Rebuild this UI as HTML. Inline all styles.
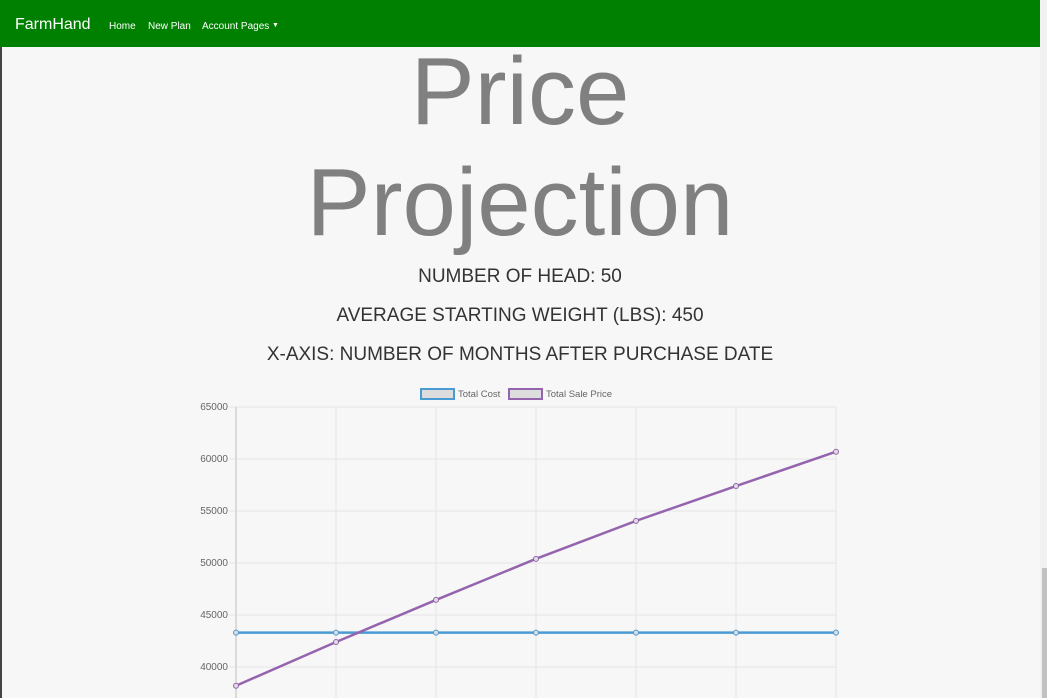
<!DOCTYPE html>
<html><head><meta charset="utf-8"><style>
body{margin:0;width:1047px;height:698px;overflow:hidden;background:#f7f7f7;font-family:"Liberation Sans",sans-serif;position:relative}
#nav{position:absolute;left:0;top:0;width:1040px;height:47px;background:#008000;color:#fff}
#nav .brand{position:absolute;left:15px;top:16px;font-size:16px}
#nav .l{position:absolute;top:21px;font-size:10px}
#lb{position:absolute;left:0;top:0;width:2px;height:698px;background:#444}
#sb{position:absolute;left:1040px;top:0;width:7px;height:698px;background:#f1f1f1}
#th{position:absolute;left:1042px;top:568px;width:5px;height:130px;background:#c1c1c1}
.t{position:absolute;left:0;width:1040px;text-align:center;color:#808080;font-size:96px;line-height:1}
.s{position:absolute;left:0;width:1040px;text-align:center;color:#333;font-size:19px}
</style></head><body>
<div id="lb"></div>
<div id="nav">
<span class="brand">FarmHand</span>
<span class="l" style="left:109px">Home</span>
<span class="l" style="left:148px">New Plan</span>
<span class="l" style="left:202px">Account Pages <span style="font-size:7px;vertical-align:2px">▼</span></span>
</div>
<div id="sb"></div>
<div id="th"></div>
<div class="t" style="top:44px">Price</div>
<div class="t" style="top:155px">Projection</div>
<div class="s" style="top:266px">NUMBER OF HEAD: 50</div>
<div class="s" style="top:305px">AVERAGE STARTING WEIGHT (LBS): 450</div>
<div class="s" style="top:344px">X-AXIS: NUMBER OF MONTHS AFTER PURCHASE DATE</div>
<svg id="chart" style="position:absolute;left:0;top:0" width="1040" height="698"></svg>
<script>
const categories=[0,1,2,3,4,5,6];
const totalCost=[43300,43300,43300,43300,43300,43300,43300];
const totalSale=[38200,42400,46450,50400,54050,57400,60700];
const yTicks=[65000,60000,55000,50000,45000,40000];
const NS="http://www.w3.org/2000/svg";
const svg=document.getElementById('chart');
const x=i=>236+i*100;
const y=v=>407+(65000-v)/5000*52;
function mk(t,a){const e=document.createElementNS(NS,t);for(const k in a)e.setAttribute(k,a[k]);svg.appendChild(e);return e;}
yTicks.forEach(v=>{
 const l=mk('line',{x1:229,x2:836,y1:y(v),y2:y(v),stroke:'#e6e6e6'});
 
 
 const t=mk('text',{x:228,y:y(v)+3,'text-anchor':'end','font-size':10,fill:'#666','font-family':'Liberation Sans'});
 t.textContent=v;
 
 
});
categories.forEach((c,i)=>{
 const l=mk('line',{x1:x(i),x2:x(i),y1:407,y2:698,stroke:i==0?'#d0d0d0':'#e6e6e6','stroke-width':i==0?1.5:1});
 
 
});
function series(vals,col,name){
 const p=mk('polyline',{points:vals.map((v,i)=>x(i)+','+y(v)).join(' '),fill:'none',stroke:col,'stroke-width':2.5});
 
 
 vals.forEach((v,i)=>{
  const c=mk('circle',{cx:x(i),cy:y(v),r:2.5,fill:'#ddd',stroke:col,'stroke-width':1});
  
  
 });
}
series(totalCost,'#4a9ad4','total-cost');
series(totalSale,'#9564ae','total-sale-price');
[[421,'#4a9ad4','Total Cost','legend-total-cost'],[509,'#9564ae','Total Sale Price','legend-total-sale-price']].forEach(d=>{
 const r=mk('rect',{x:d[0],y:389,width:33,height:10,fill:'#ddd',stroke:d[1],'stroke-width':2});
 
 
 const t=mk('text',{x:d[0]+37,y:397,'font-size':9.5,fill:'#666','font-family':'Liberation Sans'});
 t.textContent=d[2];
 
 
});
</script>
</body></html>
